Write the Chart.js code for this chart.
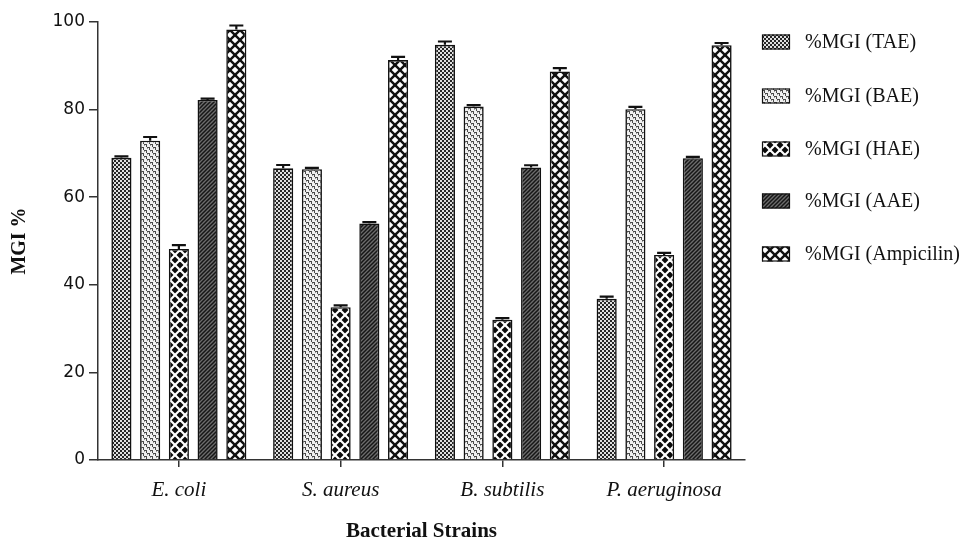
<!DOCTYPE html>
<html>
<head>
<meta charset="utf-8">
<script src="https://cdn.jsdelivr.net/npm/chart.js@4/dist/chart.umd.min.js"></script>
<style>
  html, body { margin: 0; padding: 0; background: #fff; }
  #wrap { width: 971px; height: 541px; }
</style>
</head>
<body>
<div id="wrap"><canvas id="c" width="971" height="541"></canvas></div>
<script>
// Bacterial strains tested
const strains = ['E. coli', 'S. aureus', 'B. subtilis', 'P. aeruginosa'];

// Mean growth inhibition (%) per extract
const mgiTAE = [69.0, 66.6, 94.8, 36.8];
const mgiBAE = [72.9, 66.4, 80.7, 80.1];
const mgiHAE = [48.2, 34.9, 32.0, 46.8];
const mgiAAE = [82.2, 54.0, 66.8, 68.9];
const mgiAmp = [98.3, 91.3, 88.7, 94.7];

// Standard errors (upper whiskers)
const errTAE = [0.3, 0.75, 0.75, 0.5];
const errBAE = [0.85, 0.3, 0.3, 0.5];
const errHAE = [0.85, 0.4, 0.4, 0.5];
const errAAE = [0.3, 0.3, 0.5, 0.3];
const errAmp = [0.9, 0.75, 0.75, 0.5];

const seriesLabels = ['%MGI (TAE)', '%MGI (BAE)', '%MGI (HAE)', '%MGI (AAE)', '%MGI (Ampicilin)'];
const yTicks = [0, 20, 40, 60, 80, 100];

// ---- fill patterns ----
function makePattern(size, draw) {
  const c = document.createElement('canvas');
  c.width = size; c.height = size;
  const g = c.getContext('2d');
  draw(g, size);
  return g.createPattern(c, 'repeat');
}

const patChecker = makePattern(4, (g) => {
  g.fillStyle = '#262626'; g.fillRect(0, 0, 4, 4);
  g.fillStyle = '#e0e0e0';
  g.fillRect(0, 0, 2, 2); g.fillRect(2, 2, 2, 2);
});

const patBrick = makePattern(6, (g) => {
  g.fillStyle = '#f0f0f0'; g.fillRect(0, 0, 6, 6);
  g.fillStyle = '#4a4a4a';
  g.fillRect(0, 0, 3, 1); g.fillRect(2, 1, 1, 2);
  g.fillRect(3, 3, 3, 1); g.fillRect(5, 4, 1, 2);
  g.fillStyle = '#9a9a9a';
  g.fillRect(0, 1, 1, 1); g.fillRect(3, 4, 1, 1);
});

function lattice(bg, fg, lw) {
  return makePattern(10, (g, s) => {
    g.fillStyle = bg; g.fillRect(0, 0, s, s);
    g.strokeStyle = fg; g.lineWidth = lw;
    for (let k = -s; k <= s; k += s) {
      g.beginPath(); g.moveTo(k - 2, -2); g.lineTo(k + s + 2, s + 2); g.stroke();
      g.beginPath(); g.moveTo(k + s + 2, -2); g.lineTo(k - 2, s + 2); g.stroke();
    }
  });
}
const patDarkLattice = lattice('#0a0a0a', '#ffffff', 2.2);
const patLightLattice = lattice('#ffffff', '#111111', 2.4);

const patHatch = makePattern(4, (g) => {
  g.fillStyle = '#6c6c6c'; g.fillRect(0, 0, 4, 4);
  g.strokeStyle = '#161616'; g.lineWidth = 1.5;
  for (let k = -4; k <= 4; k += 4) {
    g.beginPath(); g.moveTo(k - 1, 5); g.lineTo(k + 5, -1); g.stroke();
  }
});

const fills = [patChecker, patBrick, patDarkLattice, patHatch, patLightLattice];
const values = [mgiTAE, mgiBAE, mgiHAE, mgiAAE, mgiAmp];
const errors = [errTAE, errBAE, errHAE, errAAE, errAmp];

const datasets = values.map((v, i) => ({
  label: seriesLabels[i],
  data: v,
  errors: errors[i],
  backgroundColor: fills[i],
  borderColor: '#111',
  borderWidth: 1.6,
  categoryPercentage: 0.888,
  barPercentage: 0.70
}));

// Upper error whiskers with caps
const errorBars = {
  id: 'errorBars',
  afterDatasetsDraw(chart) {
    const ctx = chart.ctx;
    const ys = chart.scales.y;
    ctx.save();
    ctx.strokeStyle = '#111';
    ctx.lineWidth = 2.2;
    chart.data.datasets.forEach((ds, i) => {
      const meta = chart.getDatasetMeta(i);
      meta.data.forEach((bar, j) => {
        const top = ys.getPixelForValue(ds.data[j] + ds.errors[j]);
        const half = 7;
        ctx.beginPath();
        ctx.moveTo(bar.x, bar.y);
        ctx.lineTo(bar.x, top);
        ctx.moveTo(bar.x - half, top);
        ctx.lineTo(bar.x + half, top);
        ctx.stroke();
      });
    });
    ctx.restore();
  }
};

// Legend column on the right
const sideLegend = {
  id: 'sideLegend',
  afterDraw(chart) {
    const ctx = chart.ctx;
    const rows = [42, 96, 149, 201, 254];
    ctx.save();
    chart.data.datasets.forEach((ds, i) => {
      const cy = rows[i];
      ctx.fillStyle = ds.backgroundColor;
      ctx.fillRect(762, cy - 7.5, 28, 15);
      ctx.strokeStyle = '#111';
      ctx.lineWidth = 1.2;
      ctx.strokeRect(762.5, cy - 7, 27, 14);
      ctx.fillStyle = '#111';
      ctx.font = '20px "Liberation Serif", serif';
      ctx.textBaseline = 'middle';
      ctx.textAlign = 'left';
      ctx.fillText(ds.label, 805, cy + 1);
    });
    ctx.restore();
  }
};

const serif = '"Liberation Serif", "Times New Roman", serif';

new Chart(document.getElementById('c'), {
  type: 'bar',
  data: { labels: strains, datasets },
  options: {
    responsive: false,
    animation: false,
    devicePixelRatio: 1,
    layout: { padding: { left: 0, right: 226, top: 22, bottom: 0 } },
    plugins: { legend: { display: false }, tooltip: { enabled: false } },
    scales: {
      x: {
        type: 'category',
        offset: true,
        grid: { display: true, drawOnChartArea: false, drawTicks: true, tickLength: 7, offset: false, color: '#333', lineWidth: 1.5 },
        border: { display: true, color: '#333', width: 1.5 },
        ticks: { font: { family: serif, style: 'italic', size: 21 }, color: '#111', padding: 11 },
        title: { display: true, text: 'Bacterial Strains', color: '#111',
                 font: { family: serif, weight: 'bold', size: 21 }, padding: { top: 4, bottom: -3 } },
        afterFit(s) { s.height = 81; }
      },
      y: {
        min: 0, max: 100,
        afterBuildTicks(s) { s.ticks = yTicks.map(v => ({ value: v })); },
        grid: { display: true, drawOnChartArea: false, drawTicks: true, tickLength: 9, color: '#333', lineWidth: 1.5 },
        border: { display: true, color: '#333', width: 1.5 },
        ticks: { font: { family: '"DejaVu Sans", sans-serif', size: 17 }, color: '#111', padding: 4 },
        title: { display: true, text: 'MGI %', color: '#111',
                 font: { family: serif, weight: 'bold', size: 20 }, padding: { top: 8, bottom: 0 } },
        afterFit(s) { s.width = 98; }
      }
    }
  },
  plugins: [errorBars, sideLegend]
});
</script>
</body>
</html>
